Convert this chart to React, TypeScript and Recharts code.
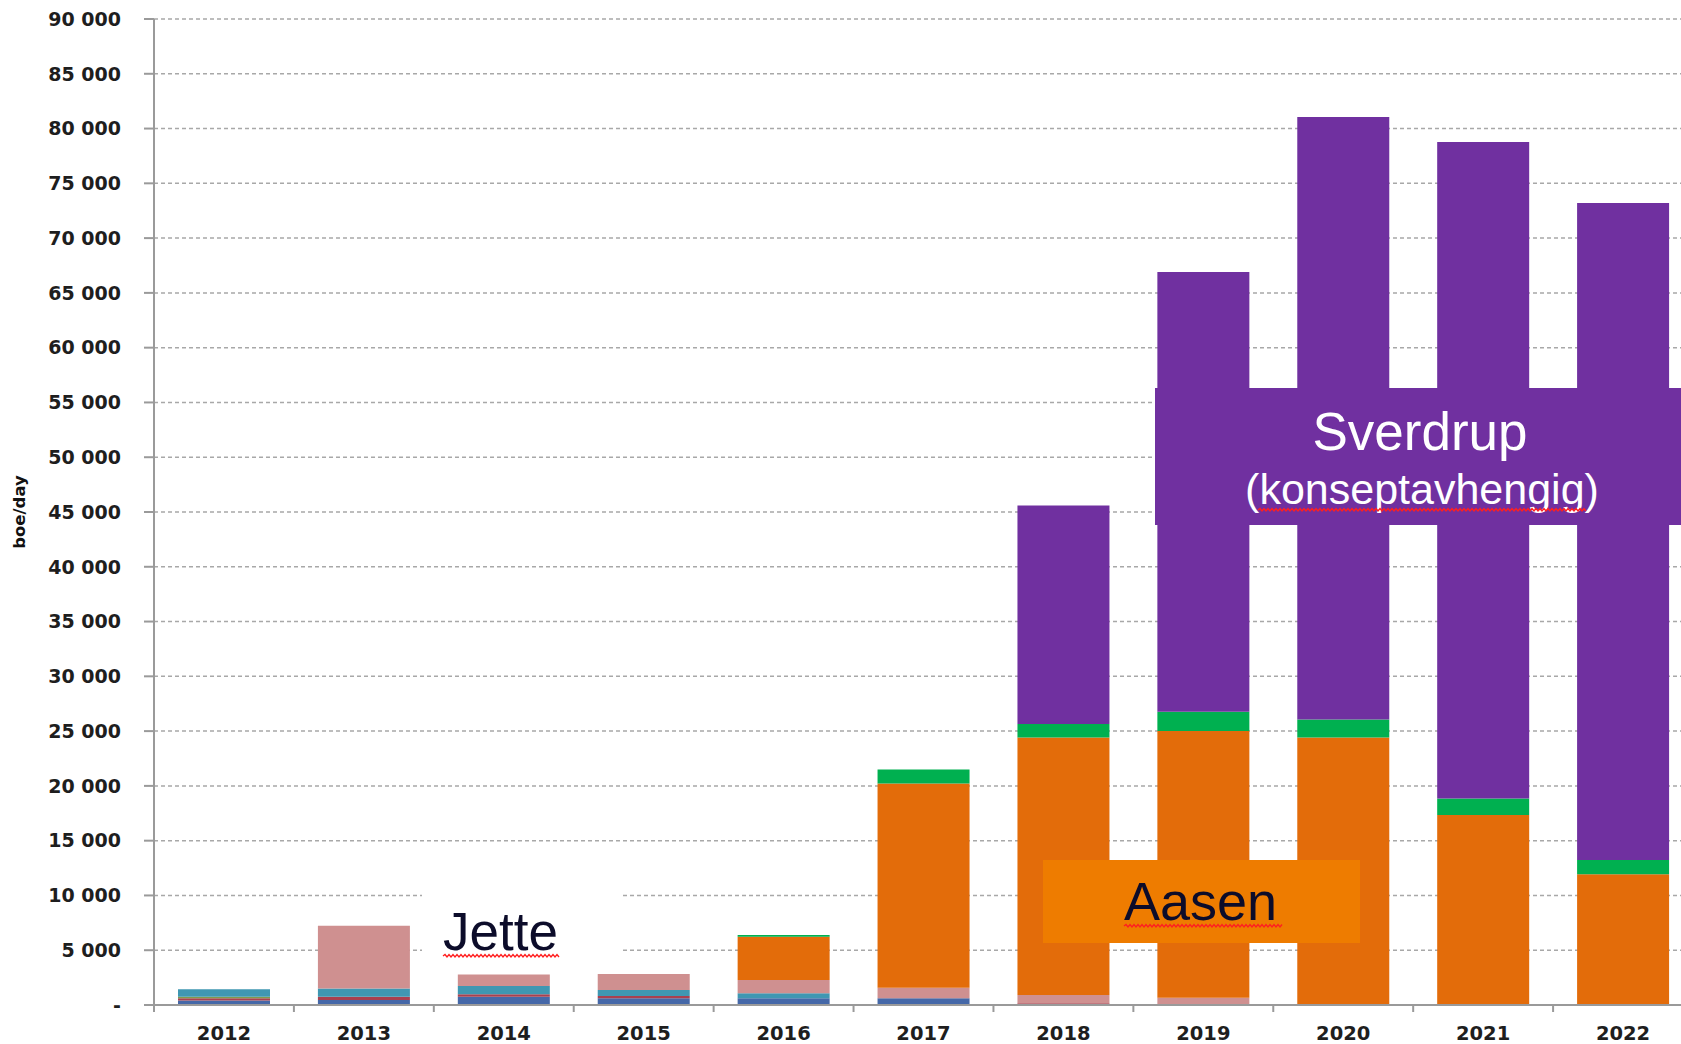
import React from "react";
import { BarChart, Bar, XAxis, YAxis, CartesianGrid } from "recharts";

const years = ["2012", "2013", "2014", "2015", "2016", "2017", "2018", "2019", "2020", "2021", "2022"];

// boe/day per field, bottom of the stack first
const blue = [400, 450, 760, 610, 610, 610, 0, 0, 0, 0, 0];
const red = [210, 300, 210, 210, 0, 0, 150, 0, 0, 0, 0];
const olive = [150, 0, 0, 0, 0, 0, 0, 0, 0, 0, 0];
const teal = [670, 760, 760, 550, 456, 0, 0, 0, 0, 0, 0];
const pink = [0, 5715, 1065, 1460, 1216, 975, 760, 670, 0, 0, 0];
const aasen = [0, 0, 0, 0, 3953, 18635, 23515, 24330, 24425, 17335, 11925];
const green = [0, 0, 0, 0, 150, 1280, 1215, 1760, 1640, 1520, 1305];
const sverdrup = [0, 0, 0, 0, 0, 0, 19950, 40140, 54985, 59915, 59970];

const yTicks = [0, 5000, 10000, 15000, 20000, 25000, 30000, 35000, 40000, 45000, 50000, 55000, 60000, 65000, 70000, 75000, 80000, 85000, 90000];

const data = years.map((year, i) => ({
  year,
  blue: blue[i],
  red: red[i],
  olive: olive[i],
  teal: teal[i],
  pink: pink[i],
  aasen: aasen[i],
  green: green[i],
  sverdrup: sverdrup[i],
}));

const series: { key: string; color: string }[] = [
  { key: "blue", color: "#4568a8" },
  { key: "red", color: "#a9404f" },
  { key: "olive", color: "#7f9a4c" },
  { key: "teal", color: "#3f97b2" },
  { key: "pink", color: "#cf9090" },
  { key: "aasen", color: "#e36c0a" },
  { key: "green", color: "#00b050" },
  { key: "sverdrup", color: "#7030a0" },
];

const CHART_W = 1693;
const CHART_H = 1044;
const Y_AXIS_W = 154;
const BAND = (CHART_W - Y_AXIS_W) / years.length;

const tickFont = "'DejaVu Sans', Verdana, sans-serif";
const textFont = "'Liberation Sans', Arial, sans-serif";

function fmt(v: number) {
  if (v === 0) return "-";
  return String(v).replace(/\B(?=(\d{3})+(?!\d))/g, " ");
}

function YearTick(props: any) {
  const { x, y, payload, index } = props;
  const last = index === years.length - 1;
  return (
    <g>
      <line x1={x - BAND / 2} x2={x - BAND / 2} y1={y} y2={y + 7} stroke="#9a9a9a" strokeWidth={2} />
      {last && <line x1={x + BAND / 2} x2={x + BAND / 2} y1={y} y2={y + 7} stroke="#9a9a9a" strokeWidth={2} />}
      <text x={x} y={y + 34.5} textAnchor="middle" fontFamily={tickFont} fontWeight="bold" fontSize={19.5} fill="#1e1e1e">
        {payload.value}
      </text>
    </g>
  );
}

// red spell-check squiggle under a word
function Squiggle({ x1, x2, y }: { x1: number; x2: number; y: number }) {
  let d = `M${x1},${y}`;
  let up = true;
  for (let x = x1 + 2; x <= x2; x += 2) {
    d += ` L${x},${up ? y - 1.5 : y + 1}`;
    up = !up;
  }
  return <path d={d} fill="none" stroke="#ff2020" strokeWidth={1.4} />;
}

export default function App() {
  return (
    <div style={{ position: "absolute", left: 0, top: 0, width: 1681, height: 1044, overflow: "hidden", background: "#fff" }}>
      <BarChart width={CHART_W} height={CHART_H} data={data} margin={{ top: 19, right: 0, left: 0, bottom: 1 }}>
        <CartesianGrid vertical={false} stroke="#a8a8a8" strokeDasharray="4 3" strokeWidth={1.5} />
        <XAxis
          dataKey="year"
          interval={0}
          height={38}
          tickLine={false}
          tickSize={0}
          tickMargin={0}
          axisLine={{ stroke: "#9a9a9a", strokeWidth: 2 }}
          tick={YearTick}
        />
        <YAxis
          width={Y_AXIS_W}
          domain={[0, 90000]}
          ticks={yTicks}
          interval={0}
          tickFormatter={fmt}
          tickSize={10}
          tickMargin={23}
          axisLine={{ stroke: "#9a9a9a", strokeWidth: 2 }}
          tickLine={{ stroke: "#9a9a9a", strokeWidth: 2 }}
          tick={{ fontFamily: tickFont, fontWeight: "bold", fontSize: 19, fill: "#1e1e1e" }}
        />
        {series.map((s) => (
          <Bar key={s.key} dataKey={s.key} stackId="a" fill={s.color} barSize={92} isAnimationActive={false} />
        ))}
      </BarChart>

      <svg width={1681} height={1044} style={{ position: "absolute", left: 0, top: 0, pointerEvents: "none" }}>
        <text
          transform="translate(25,512) rotate(-90)"
          textAnchor="middle"
          fontFamily={tickFont}
          fontWeight="bold"
          fontSize={16.5}
          fill="#111"
        >
          boe/day
        </text>

        {/* Jette */}
        <rect x={422} y={850} width={198} height={115} fill="#fff" />
        <text x={443} y={950} fontFamily={textFont} fontSize={53} fill="#0c0c2a">
          Jette
        </text>
        <Squiggle x1={443} x2={560} y={956} />

        {/* Aasen */}
        <rect x={1043} y={860} width={317} height={83} fill="#ee7c00" />
        <text x={1124} y={920} fontFamily={textFont} fontSize={54} fill="#0c0c2a">
          Aasen
        </text>
        <Squiggle x1={1124} x2={1282} y={926} />

        {/* Sverdrup */}
        <rect x={1155} y={388} width={540} height={137} fill="#7030a0" />
        <text x={1420} y={450} textAnchor="middle" fontFamily={textFont} fontSize={53} fill="#fff">
          Sverdrup
        </text>
        <text x={1422} y={504} textAnchor="middle" fontFamily={textFont} fontSize={43} fill="#fff">
          (konseptavhengig)
        </text>
        <Squiggle x1={1258} x2={1586} y={510} />
      </svg>
    </div>
  );
}
